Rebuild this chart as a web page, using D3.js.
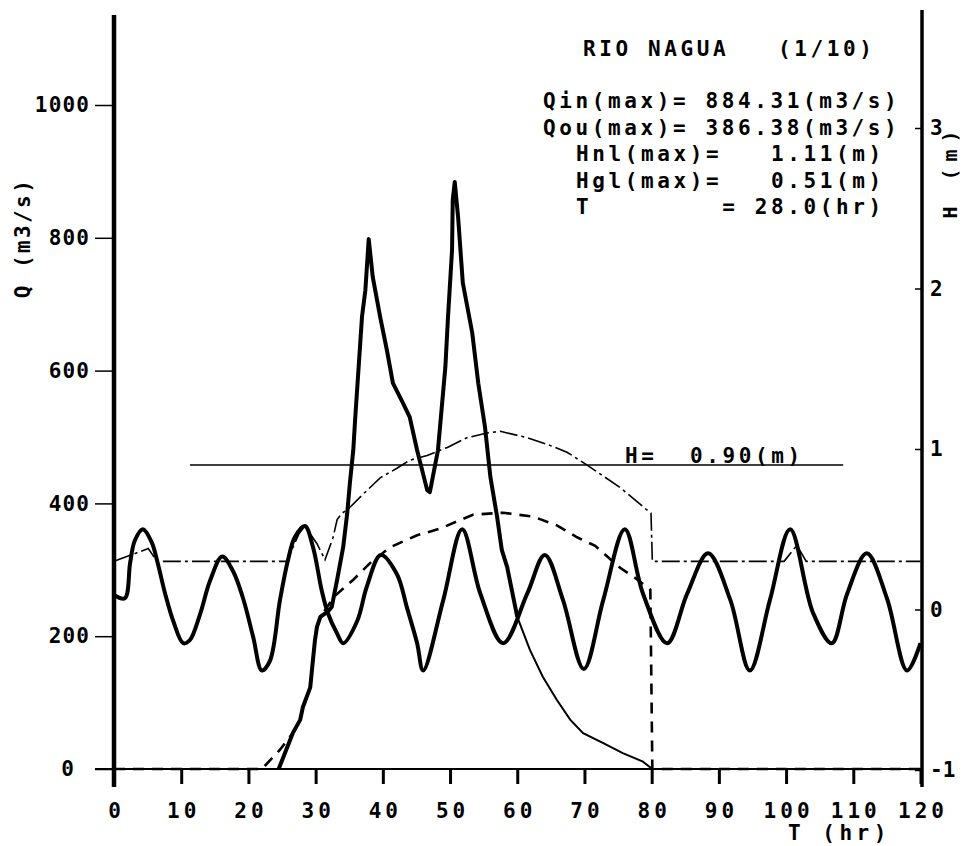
<!DOCTYPE html>
<html>
<head>
<meta charset="utf-8">
<script src="https://cdn.jsdelivr.net/npm/d3@7"></script>
<style>
  body { margin: 0; background: #fff; }
  svg text { font-family: "DejaVu Sans Mono", monospace; font-weight: bold; fill: #000; white-space: pre; }
</style>
</head>
<body>
<svg id="chart" width="963" height="846"></svg>
<script>
// ticks
const xTicks = [0, 10, 20, 30, 40, 50, 60, 70, 80, 90, 100, 110, 120];
const qTicks = [0, 200, 400, 600, 800, 1000];
const hTicks = [-1, 0, 1, 2, 3];

// title + result block
const title = "RIO NAGUA   (1/10)";
const statsQ = ["Qin(max)= 884.31(m3/s)", "Qou(max)= 386.38(m3/s)"];
const statsH = ["Hnl(max)=   1.11(m)", "Hgl(max)=   0.51(m)", "T        = 28.0(hr)"];

// design water level
const hDesign = 0.90;
const hDesignSpan = [11.3, 108.5];

// inflow discharge Qin [hr, m3/s]
const qin = [
  [24.5, 0], [26.6, 54], [27.7, 74], [28.1, 93], [29.2, 123], [29.5, 154], [29.9, 194],
  [30.2, 214], [30.7, 229], [31.8, 237], [32.4, 244], [33.2, 285], [34.1, 334], [34.7, 385],
  [35.1, 431], [35.6, 480], [35.9, 530], [36.3, 590], [36.9, 681], [37.4, 721], [37.9, 798],
  [38.5, 741], [39.6, 681], [40.6, 631], [41.5, 581], [43.0, 551], [44.0, 530], [45.1, 480],
  [46.6, 420], [47.0, 417], [48.2, 480], [49.3, 605], [49.7, 681], [50.3, 782], [50.4, 857],
  [50.7, 884], [51.2, 831], [51.9, 732], [53.3, 657], [54.2, 581], [55.2, 515], [56.0, 440],
  [57.0, 380], [57.7, 330], [58.5, 304], [60.0, 229], [61.9, 179], [63.8, 139], [65.9, 104],
  [67.9, 74], [69.8, 54], [72.8, 39], [75.7, 24], [78.7, 11], [80.1, 0]
];

// outflow discharge Qou [hr, m3/s]
const qou = [
  [0, 0], [22, 0], [24.7, 29], [26.6, 54], [27.7, 74], [28.1, 93], [29.2, 123], [29.5, 154],
  [29.9, 194], [30.2, 214], [30.7, 229], [32.8, 260], [35.6, 285], [38.3, 312], [41.1, 334],
  [45.1, 352], [48.5, 362], [53.4, 383], [57.9, 386], [62.4, 380], [65.9, 367], [68.9, 349],
  [71.6, 336], [75.3, 303], [77.5, 288], [79.8, 270], [80.1, 0], [120, 0]
];

// river water level Hnl [hr, m]
const hnl = [
  [0, 0.30], [5.1, 0.38], [6.4, 0.30], [25.7, 0.30], [27.5, 0.47], [28.4, 0.52], [30.2, 0.41],
  [31.4, 0.31], [32.6, 0.45], [33.2, 0.56], [33.9, 0.60], [34.7, 0.62], [37.1, 0.72],
  [39.6, 0.82], [42.1, 0.88], [44.0, 0.93], [46.6, 0.96], [49.6, 1.01], [52.5, 1.07],
  [55.5, 1.10], [57.5, 1.11], [58.5, 1.10], [61.5, 1.07], [64.4, 1.03], [67.4, 0.98],
  [70.4, 0.90], [72.5, 0.84], [75.3, 0.76], [79.3, 0.62], [79.9, 0.60], [80.1, 0.30],
  [99.7, 0.30], [101.6, 0.40], [103.0, 0.30], [120, 0.30]
];

// sea tide level Hgl [hr, m]
const tide = [
  [0, 0.09], [1.6, 0.07], [2.4, 0.29], [3.1, 0.43], [4.3, 0.50], [5.6, 0.42], [6.5, 0.29],
  [7.6, 0.10], [8.8, -0.07], [10.3, -0.21], [11.3, -0.19], [12.8, -0.03], [14.3, 0.18],
  [16.1, 0.33], [17.7, 0.24], [19.2, 0.07], [20.7, -0.17], [22.0, -0.38], [23.2, -0.32],
  [24.7, 0.06], [25.9, 0.31], [26.9, 0.45], [28.4, 0.52], [29.6, 0.39], [30.9, 0.12],
  [31.8, -0.02], [33.2, -0.15], [34.1, -0.21], [36.2, -0.07], [37.6, 0.14], [39.7, 0.34],
  [42.1, 0.22], [43.6, 0.01], [45.1, -0.21], [46.0, -0.38], [49.0, 0.06], [51.8, 0.50],
  [54.5, 0.10], [57.9, -0.21], [61.5, 0.10], [64.1, 0.34], [66.8, 0.06], [69.9, -0.37],
  [72.8, 0.06], [76.0, 0.50], [78.7, 0.10], [82.3, -0.21], [85.3, 0.10], [88.4, 0.35],
  [91.7, 0.06], [94.6, -0.38], [97.6, 0.06], [100.6, 0.50], [104.0, -0.02], [106.8, -0.21],
  [109.1, 0.10], [112.0, 0.35], [115.0, 0.07], [118.0, -0.38], [120, -0.21]
];

const svg = d3.select("#chart");
const x = d3.scaleLinear().domain([0, 120]).range([114, 920.5]);
const yQ = d3.scaleLinear().domain([0, 1000]).range([769, 105]);
const yH = d3.scaleLinear().domain([-1, 3]).range([770, 128]);

const fs = 21;

// frame lines
svg.append("line").attr("x1", x(0)).attr("x2", x(0)).attr("y1", 15).attr("y2", 787)
  .attr("stroke", "#000").attr("stroke-width", 4.5);
svg.append("line").attr("x1", 922).attr("x2", 922).attr("y1", 10).attr("y2", 787)
  .attr("stroke", "#000").attr("stroke-width", 3.5);
svg.append("line").attr("x1", 95).attr("x2", 922).attr("y1", yQ(0)).attr("y2", yQ(0))
  .attr("stroke", "#000").attr("stroke-width", 2);

// x axis
const lsX = 4;
const gx = svg.append("g").attr("transform", `translate(0,${yQ(0)})`)
  .call(d3.axisBottom(x).tickValues(xTicks).tickSize(15).tickPadding(19).tickFormat(d => String(d)));
gx.select(".domain").remove();
gx.selectAll(".tick line").attr("stroke-width", 3);
gx.selectAll(".tick text").attr("font-size", fs).style("letter-spacing", lsX + "px").attr("dx", lsX / 2);

svg.append("text").attr("x", 788).attr("y", 840).attr("font-size", fs)
  .style("letter-spacing", "4.5px").text("T (hr)");

// left axis
const lsY = 1.2;
const gq = svg.append("g").attr("transform", `translate(${x(0)},0)`)
  .call(d3.axisLeft(yQ).tickValues(qTicks).tickSize(19).tickPadding(6).tickFormat(d => String(d)));
gq.select(".domain").remove();
gq.selectAll(".tick line").attr("stroke-width", 1.5);
gq.selectAll(".tick text").attr("font-size", fs).style("letter-spacing", lsY + "px").attr("dx", lsY)
  .filter(d => d === 0).attr("dx", -14);

svg.append("text").attr("transform", "translate(30,238) rotate(-90)").attr("text-anchor", "middle")
  .attr("font-size", fs).style("letter-spacing", "2.4px").text("Q (m3/s)");

// right axis
const gh = svg.append("g").attr("transform", "translate(922,0)")
  .call(d3.axisRight(yH).tickValues(hTicks).tickSizeInner(-7).tickSizeOuter(0).tickPadding(8)
    .tickFormat(d => String(d)));
gh.select(".domain").remove();
gh.selectAll(".tick line").attr("stroke-width", 1.5);
gh.selectAll(".tick text").attr("font-size", fs);

svg.append("text").attr("transform", "translate(957,171) rotate(-90)").attr("text-anchor", "middle")
  .attr("font-size", 20).style("letter-spacing", "7px").text("H (m)");

// title and results
const lsT = 3.6;
svg.append("text").attr("x", 583).attr("y", 56).attr("font-size", fs)
  .style("letter-spacing", lsT + "px").text(title);
svg.selectAll("text.statq").data(statsQ).join("text").attr("class", "statq")
  .attr("x", 543).attr("y", (d, i) => 108 + i * 26.7).attr("font-size", fs)
  .style("letter-spacing", lsT + "px").text(d => d);
svg.selectAll("text.stath").data(statsH).join("text").attr("class", "stath")
  .attr("x", 576).attr("y", (d, i) => 161 + i * 26.7).attr("font-size", fs)
  .style("letter-spacing", lsT + "px").text(d => d);

// design level line
svg.append("line").attr("x1", x(hDesignSpan[0])).attr("x2", x(hDesignSpan[1]))
  .attr("y1", yH(hDesign)).attr("y2", yH(hDesign)).attr("stroke", "#000").attr("stroke-width", 1.6);
svg.append("text").attr("x", 625).attr("y", yH(hDesign) - 2).attr("font-size", fs)
  .style("letter-spacing", lsT + "px").text(`H=  ${hDesign.toFixed(2)}(m)`);

// series
const lineQ = d3.line().x(d => x(d[0])).y(d => yQ(d[1]));
const lineH = d3.line().x(d => x(d[0])).y(d => yH(d[1]));
const lineTide = d3.line().x(d => x(d[0])).y(d => yH(d[1])).curve(d3.curveCatmullRom.alpha(0.5));

svg.append("path").datum(tide).attr("d", lineTide)
  .attr("fill", "none").attr("stroke", "#000").attr("stroke-width", 4).attr("stroke-linejoin", "round");

svg.append("path").datum(hnl).attr("d", lineH)
  .attr("fill", "none").attr("stroke", "#000").attr("stroke-width", 1.6)
  .attr("stroke-dasharray", "18,4,3,4");

svg.append("path").datum(qou).attr("d", lineQ)
  .attr("fill", "none").attr("stroke", "#000").attr("stroke-width", 2.6)
  .attr("stroke-dasharray", "11,8");

svg.append("path").datum(qin.filter(d => d[0] <= 60)).attr("d", lineQ)
  .attr("fill", "none").attr("stroke", "#000").attr("stroke-width", 4).attr("stroke-linejoin", "round");
svg.append("path").datum(qin.filter(d => d[0] >= 60)).attr("d", lineQ)
  .attr("fill", "none").attr("stroke", "#000").attr("stroke-width", 2);
</script>
</body>
</html>
